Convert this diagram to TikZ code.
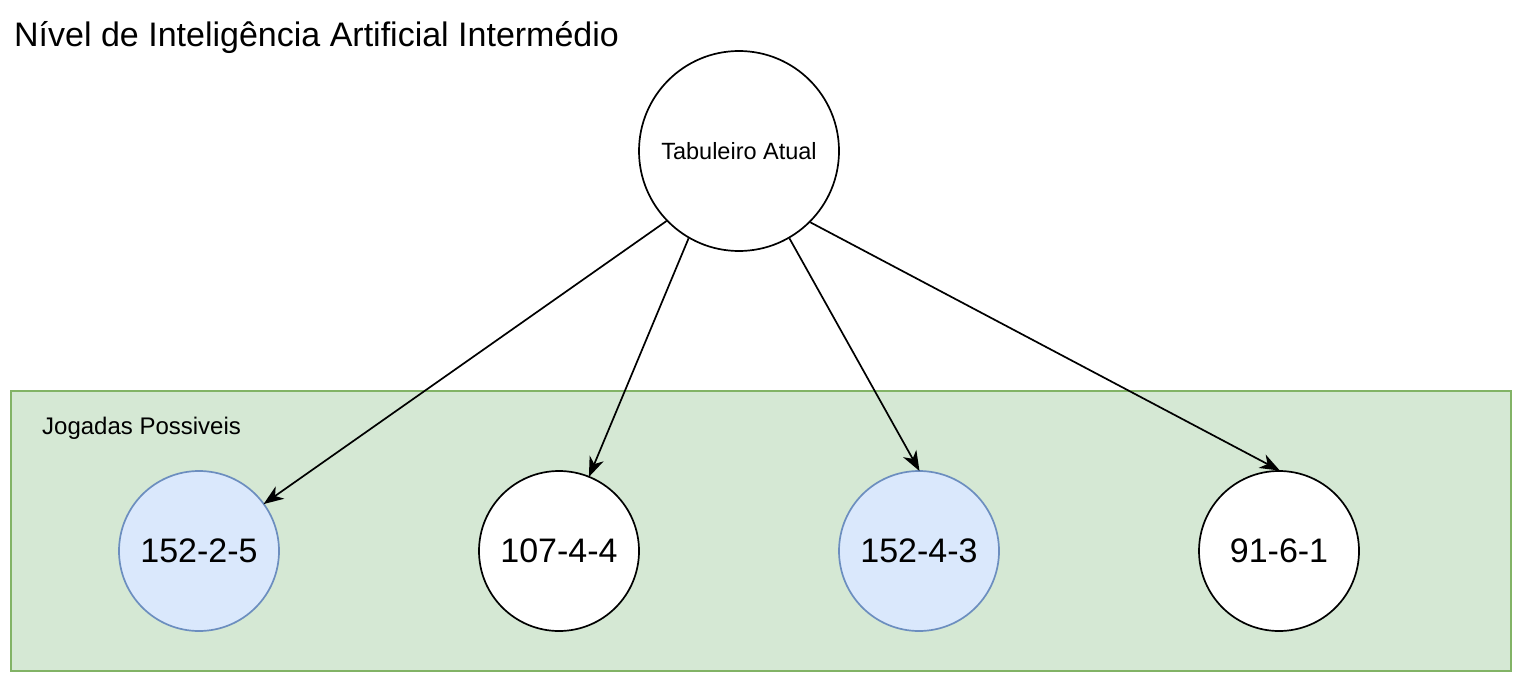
\documentclass[tikz,border=0pt]{standalone}
\usepackage{fontspec}
\setmainfont{Liberation Sans}
\usetikzlibrary{arrows.meta}

\definecolor{grupofill}{HTML}{D5E8D4}
\definecolor{grupodraw}{HTML}{82B366}
\definecolor{azulfill}{HTML}{DAE8FC}
\definecolor{azuldraw}{HTML}{6C8EBF}

\tikzset{
	jogada/.style={circle, draw=black, fill=white, line width=1.7pt, minimum size=160pt, inner sep=0pt, font=\fontsize{34}{40}\selectfont},
	melhor/.style={jogada, draw=azuldraw, fill=azulfill},
	seta/.style={line width=1.7pt, -{Stealth[length=20pt, width=15pt, inset=6pt]}, shorten >=-1pt}
}

\begin{document}
\begin{tikzpicture}[x=1pt, y=-1pt]
			\useasboundingbox (0,0) rectangle (1522,682);
			
			\node[anchor=base west, inner sep=0pt, font=\fontsize{34}{40}\selectfont] (titulo) at (14,47) {Nível de Inteligência Artificial Intermédio};
			
			\filldraw[fill=grupofill, draw=grupodraw, line width=1.7pt] (11,391) rectangle (1511,671);
			\node[anchor=base west, inner sep=0pt, font=\fontsize{24}{28}\selectfont] (grupo) at (42,434) {Jogadas Possiveis};
			
			\node[jogada, minimum size=200pt, font=\fontsize{23.5}{28}\selectfont] (atual) at (739,151) {Tabuleiro Atual};
			
			\node[melhor] (j1) at (199,551) {152-2-5};
			\node[jogada] (j2) at (559,551) {107-4-4};
			\node[melhor] (j3) at (919,551) {152-4-3};
			\node[jogada] (j4) at (1279,551) {91-6-1};
			
			\draw[seta] (atual.224) -- (j1.36);
			\draw[seta] (atual.240) -- (j2.68);
			\draw[seta] (atual.300) -- (j3.north);
			\draw[seta] (atual.315) -- (j4.north);
			
		\end{tikzpicture}
\end{document}
